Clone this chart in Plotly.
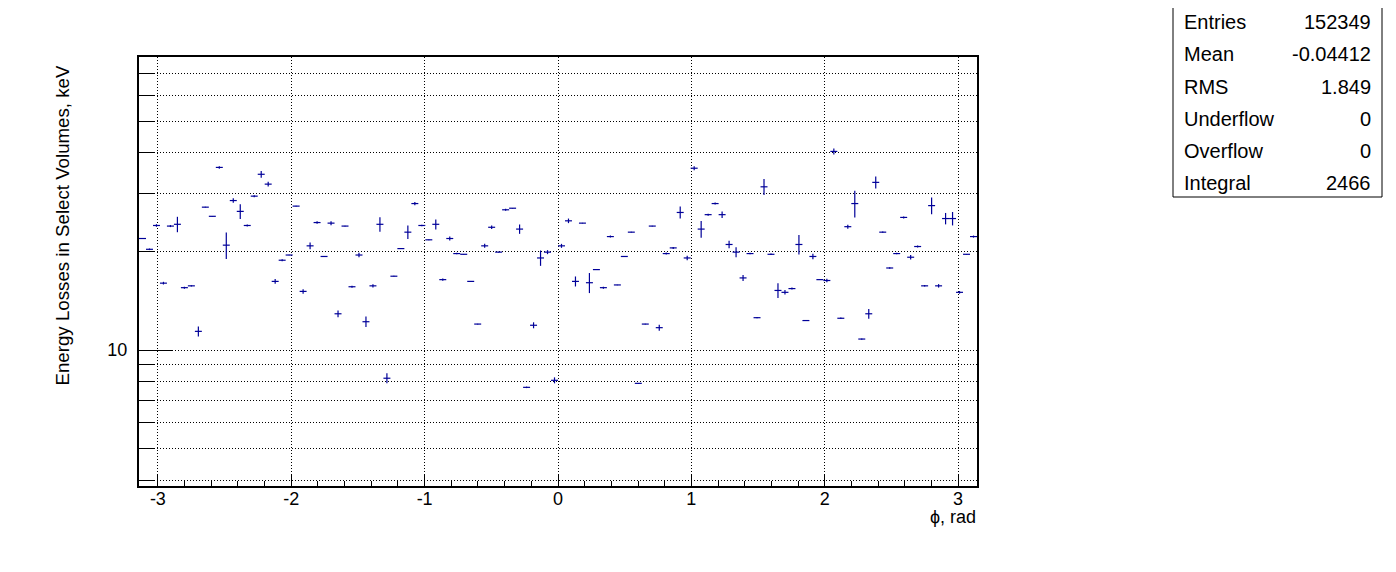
import numpy as np
import plotly.graph_objects as go

# Histogram: 120 bins over [-pi, pi]
n_bins = 120
x_min, x_max = -np.pi, np.pi

bin_values = [
    21.9, 20.3, 24.0, 16.0, 23.9, 24.2, 15.5, 15.7, 11.4, 27.3,
    25.6, 36.1, 20.9, 28.6, 26.5, 24.0, 29.5, 34.4, 32.1, 16.2,
    18.8, 19.5, 27.5, 15.1, 20.8, 24.5, 19.3, 24.4, 12.9, 23.9,
    15.6, 19.5, 12.2, 15.7, 24.2, 8.20, 16.8, 20.4, 22.9, 28.0,
    24.0, 21.7, 24.2, 16.4, 21.9, 19.7, 19.6, 16.2, 12.0, 20.8,
    23.7, 19.9, 26.8, 27.1, 23.4, 7.69, 11.9, 19.1, 19.9, 8.08,
    20.8, 24.8, 16.2, 24.4, 16.05, 17.6, 15.5, 22.2, 15.8, 19.3,
    22.9, 7.91, 12.0, 23.9, 11.7, 19.7, 20.5, 26.3, 19.1, 35.9,
    23.4, 25.9, 28.0, 25.9, 21.0, 19.9, 16.6, 19.7, 12.55, 31.5,
    19.6, 15.2, 15.0, 15.4, 21.0, 12.3, 19.3, 16.4, 16.3, 40.4,
    12.5, 23.8, 28.0, 10.8, 12.9, 32.5, 22.9, 17.8, 19.7, 25.4,
    19.2, 20.7, 15.7, 27.6, 15.7, 25.2, 25.2, 15.0, 19.6, 22.2,
]

bin_errors = [
    0.08, 0.11, 0.22, 0.15, 0.17, 1.31, 0.11, 0.06, 0.40, 0.06,
    0.05, 0.33, 1.95, 0.46, 1.36, 0.17, 0.21, 0.80, 0.52, 0.26,
    0.13, 0.04, 0.06, 0.24, 0.48, 0.22, 0.04, 0.34, 0.30, 0.05,
    0.11, 0.32, 0.45, 0.19, 1.24, 0.29, 0.04, 0.04, 1.08, 0.33,
    0.12, 0.05, 0.85, 0.12, 0.31, 0.10, 0.04, 0.03, 0.03, 0.29,
    0.28, 0.04, 0.19, 0.06, 0.77, 0.04, 0.25, 1.03, 0.28, 0.17,
    0.29, 0.40, 0.57, 0.05, 1.13, 0.04, 0.11, 0.16, 0.03, 0.04,
    0.05, 0.02, 0.03, 0.05, 0.25, 0.14, 0.14, 1.11, 0.31, 0.50,
    1.37, 0.18, 0.20, 0.60, 0.55, 0.70, 0.35, 0.10, 0.06, 1.77,
    0.10, 0.78, 0.24, 0.11, 1.43, 0.03, 0.37, 0.03, 0.19, 0.85,
    0.06, 0.33, 2.62, 0.05, 0.45, 1.37, 0.11, 0.09, 0.10, 0.18,
    0.31, 0.15, 0.08, 1.61, 0.19, 1.01, 1.19, 0.14, 0.04, 0.16,
]

x_tick_vals = [-3, -2, -1, 0, 1, 2, 3]
x_tick_text = ["-3", "-2", "-1", "0", "1", "2", "3"]
y_major_vals = [10]
y_major_text = ["10"]
y_minor_vals = [4, 5, 6, 7, 8, 9, 20, 30, 40, 50, 60, 70]

stats_labels = ["Entries", "Mean", "RMS", "Underflow", "Overflow", "Integral"]
stats_values = ["152349", "-0.04412", "1.849", "0", "0", "2466"]

x_title = "ϕ, rad"
y_title = "Energy Losses in Select Volumes, keV"

edges = np.linspace(x_min, x_max, n_bins + 1)
centers = 0.5 * (edges[:-1] + edges[1:])
half_width = (x_max - x_min) / n_bins / 2

line_color = "#000099"
font_family = "Liberation Sans, Arial, Helvetica, sans-serif"

fig = go.Figure()
fig.add_trace(go.Scatter(
    x=centers, y=bin_values, mode="markers",
    marker=dict(size=1, color="rgba(0,0,0,0)"),
    error_x=dict(type="constant", value=half_width, width=0, thickness=1.2, color=line_color),
    error_y=dict(type="data", array=bin_errors, width=0, thickness=1.2, color=line_color),
    showlegend=False, hoverinfo="x+y",
))

# page body has an 8px margin: figure origin sits at (8, 8) in the window
OFF = 8
W, H = 1396 - OFF, 572 - OFF
L, T = 139 - OFF, 57 - OFF
R = W - (977 - OFF)
B = H - (486 - OFF)
pw, ph = W - L - R, H - T - B

def px_x(p):
    return (p - OFF - L) / pw

def px_y(p):
    return (H - B - (p - OFF)) / ph

dot = "1px,2px"

fig.update_layout(
    width=W, height=H,
    margin=dict(l=L, r=R, t=T, b=B, pad=0),
    paper_bgcolor="white", plot_bgcolor="white",
    font=dict(family=font_family, size=18, color="black"),
    xaxis=dict(
        range=[x_min, x_max],
        tickmode="array", tickvals=x_tick_vals, ticktext=x_tick_text,
        ticks="inside", ticklen=12, tickwidth=1, tickcolor="black",
        showgrid=True, gridcolor="black", gridwidth=1, griddash=dot,
        showline=True, linecolor="black", linewidth=2, mirror=True,
        zeroline=False, ticklabelstandoff=-5,
        minor=dict(dtick=0.2, tick0=0, ticks="inside", ticklen=5, tickwidth=1,
                   tickcolor="black", showgrid=False),
        tickfont=dict(size=18),
    ),
    yaxis=dict(
        type="log", range=[0.5847, 1.8947],
        tickmode="array", tickvals=y_major_vals, ticktext=y_major_text,
        ticks="inside", ticklen=33, tickwidth=1, tickcolor="black",
        showgrid=True, gridcolor="black", gridwidth=1, griddash=dot,
        showline=True, linecolor="black", linewidth=2, mirror=True,
        zeroline=False, ticklabelstandoff=6,
        minor=dict(tickmode="array", tickvals=y_minor_vals, ticks="inside", ticklen=16,
                   tickwidth=1, tickcolor="black", showgrid=True, gridcolor="black",
                   gridwidth=1, griddash=dot),
        tickfont=dict(size=18),
    ),
)

# Axis titles
fig.add_annotation(xref="paper", yref="paper", x=px_x(62), y=px_y(225.5),
                   text=y_title, textangle=-90, showarrow=False,
                   xanchor="center", yanchor="middle", font=dict(size=18.7))
fig.add_annotation(xref="paper", yref="paper", x=px_x(978), y=px_y(517),
                   text=x_title, showarrow=False,
                   xanchor="right", yanchor="middle", font=dict(size=18))

# Stats box
fig.add_shape(type="rect", xref="paper", yref="paper",
              x0=px_x(1173), x1=px_x(1382), y0=px_y(197), y1=px_y(5),
              line=dict(color="black", width=1), fillcolor="white")
row_y = [22, 54, 87, 119, 151, 183]
for lab, val, ry in zip(stats_labels, stats_values, row_y):
    fig.add_annotation(xref="paper", yref="paper", x=px_x(1182), y=px_y(ry),
                       text=lab, showarrow=False, xanchor="left", yanchor="middle",
                       font=dict(size=20))
    fig.add_annotation(xref="paper", yref="paper", x=px_x(1373), y=px_y(ry),
                       text=val, showarrow=False, xanchor="right", yanchor="middle",
                       font=dict(size=20))

fig.write_html("out.html")
